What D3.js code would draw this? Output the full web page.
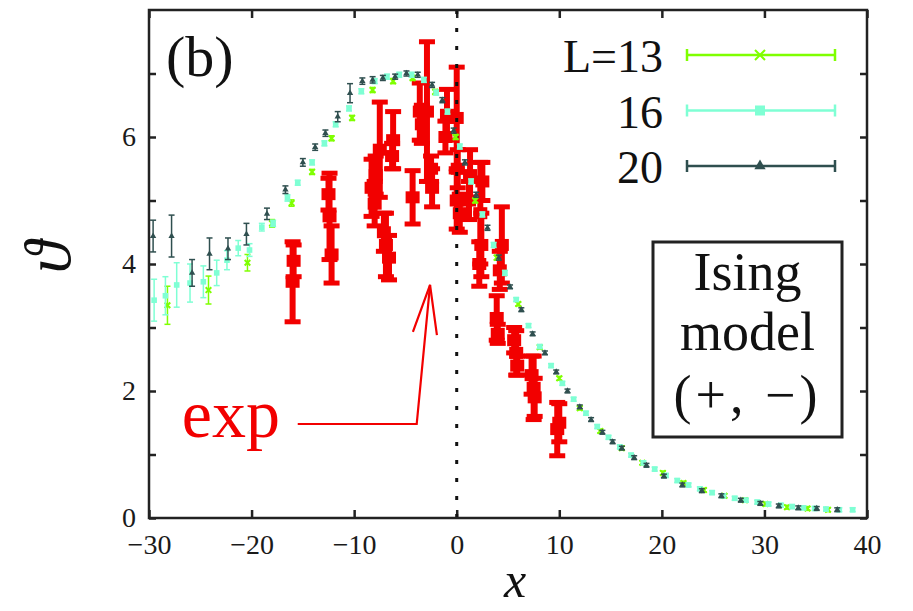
<!DOCTYPE html>
<html>
<head>
<meta charset="utf-8">
<script src="https://cdn.jsdelivr.net/npm/d3@7"></script>
<style>
  body { margin: 0; background: #fff; }
  text { font-family: "Liberation Serif", serif; }
</style>
</head>
<body>
<svg id="chart" width="913" height="611"></svg>
<script>
// Ising model, L=13
const l13X = [-28.2, -24.2, -20.4, -18.0, -16.1, -14.1, -12.2, -10.2, -8.2, -6.2, -4.3, -2.1, -0.1, 1.8, 3.9, 6.0, 8.1, 10.0, 12.0, 14.0, 16.1, 18.1, 20.1, 22.1, 24.1, 26.1, 28.1, 30.1, 32.2, 34.2, 36.2];
const l13Y = [3.35, 3.59, 4.02, 4.64, 4.96, 5.45, 5.98, 6.3, 6.74, 6.88, 6.93, 6.71, 6.0, 5.0, 4.1, 3.37, 2.69, 2.2, 1.73, 1.37, 1.1, 0.87, 0.71, 0.55, 0.44, 0.35, 0.28, 0.22, 0.17, 0.15, 0.13];
const l13Err = [0.3, 0.22, 0.13, 0.06, 0.05, 0.04, 0.04, 0.04, 0.04, 0.04, 0.04, 0.04, 0.04, 0.04, 0.04, 0.03, 0.03, 0.03, 0.03, 0.03, 0.03, 0.03, 0.03, 0.03, 0.03, 0.03, 0.03, 0.03, 0.03, 0.03, 0.03];

// L=16
const l16X = [-29.5, -28.4, -27.3, -26.0, -24.7, -23.4, -22.4, -21.3, -20.2, -19.0, -17.9, -16.5, -15.5, -14.1, -12.9, -11.8, -10.5, -9.3, -8.0, -6.8, -5.6, -4.4, -3.2, -2.0, -0.9, 0.3, 1.4, 2.5, 3.6, 4.7, 5.8, 7.0, 8.1, 9.2, 10.3, 11.4, 12.6, 13.7, 14.8, 15.9, 17.0, 18.2, 19.3, 20.4, 21.5, 22.6, 23.7, 24.9, 26.0, 27.1, 28.2, 29.3, 30.4, 31.6, 32.7, 33.8, 34.9, 36.0, 37.3, 38.6];
const l16Y = [3.43, 3.5, 3.67, 3.7, 3.72, 3.86, 4.06, 4.25, 4.22, 4.58, 4.64, 5.04, 5.28, 5.6, 5.9, 6.2, 6.45, 6.72, 6.88, 6.95, 6.98, 6.98, 6.9, 6.7, 6.4, 5.85, 5.3, 4.78, 4.3, 3.86, 3.44, 3.03, 2.7, 2.4, 2.12, 1.87, 1.65, 1.44, 1.27, 1.12, 0.99, 0.87, 0.77, 0.67, 0.59, 0.52, 0.46, 0.4, 0.35, 0.31, 0.28, 0.25, 0.22, 0.2, 0.18, 0.16, 0.15, 0.14, 0.13, 0.13];
const l16Err = [0.33, 0.3, 0.35, 0.3, 0.25, 0.2, 0.15, 0.12, 0.1, 0.06, 0.05, 0.05, 0.04, 0.04, 0.04, 0.04, 0.04, 0.04, 0.04, 0.04, 0.04, 0.04, 0.04, 0.04, 0.04, 0.04, 0.04, 0.04, 0.04, 0.04, 0.03, 0.03, 0.03, 0.03, 0.03, 0.03, 0.03, 0.03, 0.03, 0.03, 0.03, 0.03, 0.03, 0.03, 0.03, 0.03, 0.03, 0.03, 0.03, 0.03, 0.03, 0.03, 0.03, 0.03, 0.03, 0.03, 0.03, 0.03, 0.03, 0.03];

// L=20
const l20X = [-29.6, -27.8, -25.8, -24.1, -22.3, -20.5, -18.5, -16.7, -15.0, -13.8, -12.8, -11.6, -10.4, -9.2, -8.2, -7.2, -6.0, -4.9, -3.8, -2.4, -1.4, -0.3, 0.8, 1.9, 3.0, 4.1, 5.2, 6.3, 7.4, 8.6, 9.7, 10.8, 12.0, 13.1, 14.2, 15.2, 16.1, 17.3, 18.5, 20.2, 22.0, 23.9, 25.8, 27.7, 29.6, 31.4, 33.3, 35.1, 37.1];
const l20Y = [4.44, 4.44, 3.86, 4.16, 4.24, 4.47, 4.79, 5.17, 5.6, 5.84, 6.06, 6.32, 6.69, 6.88, 6.9, 6.93, 6.95, 7.0, 6.98, 6.82, 6.58, 6.1, 5.6, 5.09, 4.57, 4.1, 3.64, 3.28, 2.9, 2.6, 2.3, 2.0, 1.75, 1.55, 1.35, 1.2, 1.1, 0.95, 0.83, 0.66, 0.52, 0.43, 0.35, 0.28, 0.23, 0.19, 0.16, 0.15, 0.13];
const l20Err = [0.25, 0.33, 0.21, 0.25, 0.17, 0.17, 0.09, 0.06, 0.06, 0.05, 0.05, 0.08, 0.15, 0.05, 0.05, 0.04, 0.04, 0.04, 0.04, 0.04, 0.04, 0.04, 0.04, 0.04, 0.04, 0.04, 0.03, 0.03, 0.03, 0.03, 0.03, 0.03, 0.03, 0.03, 0.03, 0.03, 0.03, 0.03, 0.03, 0.03, 0.03, 0.03, 0.03, 0.03, 0.03, 0.03, 0.03, 0.03, 0.03];

// Experiment
const expX = [-16.0, -15.9, -12.4, -12.2, -12.5, -8.3, -8.0, -7.5, -7.9, -6.9, -6.6, -7.1, -6.2, -6.3, -4.3, -3.6, -3.4, -2.9, -2.4, -2.5, -0.95, -1.1, 0.0, 0.1, 0.0, 0.3, 1.3, 1.2, 2.3, 2.4, 2.2, 2.5, 4.4, 4.2, 3.9, 4.0, 5.8, 5.6, 5.9, 7.5, 7.3, 7.6, 9.8, 10.0];
const expY = [3.72, 4.05, 4.75, 4.15, 5.1, 5.2, 4.95, 5.8, 5.4, 4.3, 4.1, 4.5, 5.95, 5.7, 5.05, 6.4, 6.2, 6.4, 5.2, 5.5, 6.35, 6.0, 6.3, 5.5, 5.0, 4.8, 5.4, 5.0, 4.8, 4.3, 4.0, 5.3, 4.3, 3.9, 3.15, 2.9, 2.6, 2.8, 2.4, 2.05, 2.25, 1.9, 1.4, 1.5];
const expErr = [0.63, 0.25, 0.68, 0.45, 0.25, 0.45, 0.35, 0.75, 0.3, 0.5, 0.35, 0.3, 0.45, 0.2, 0.42, 0.45, 0.3, 1.1, 0.3, 0.2, 0.4, 0.25, 0.8, 0.3, 0.45, 0.3, 0.4, 0.3, 0.8, 0.5, 0.35, 0.3, 0.6, 0.3, 0.35, 0.15, 0.35, 0.2, 0.15, 0.5, 0.3, 0.3, 0.42, 0.3];

const xTicks = [-30, -20, -10, 0, 10, 20, 30, 40];
const yTicks = [0, 1, 2, 3, 4, 5, 6, 7];
const legendLabels = ["L=13", "16", "20"];
const boxLines = ["Ising", "model", "(+, \u2212)"];

const W = 913, H = 611;
const MARGIN = { top: 10, right: 46, bottom: 93, left: 149 };
const GREEN = "#7fff00", CYAN = "#7fffd4", DARK = "#2f4f4f", RED = "#f20000", AXIS = "#222";

const svg = d3.select("#chart");
const x = d3.scaleLinear().domain([-30, 40]).range([MARGIN.left, W - MARGIN.right]);
const y = d3.scaleLinear().domain([0, 8]).range([H - MARGIN.bottom, MARGIN.top]);

const zip = (xs, ys, es) => xs.map((v, i) => ({ x: v, y: ys[i], e: es[i] }));
const series = [
  { label: legendLabels[0], color: GREEN, marker: "cross", data: zip(l13X, l13Y, l13Err) },
  { label: legendLabels[1], color: CYAN, marker: "square", data: zip(l16X, l16Y, l16Err) },
  { label: legendLabels[2], color: DARK, marker: "triangle", data: zip(l20X, l20Y, l20Err) }
];
const expData = zip(expX, expY, expErr);

// Axes (ticks point inward, gnuplot style)
const fmt = d => (d < 0 ? "\u2212" + Math.abs(d) : "" + d);
svg.append("g").attr("transform", `translate(0,${y(0)})`)
  .call(d3.axisBottom(x).tickValues(xTicks).tickSize(-8).tickPadding(16).tickFormat(fmt));
svg.append("g").attr("transform", `translate(${x(-30)},0)`)
  .call(d3.axisLeft(y).tickValues(yTicks).tickSize(-7).tickPadding(13)
    .tickFormat(d => (d % 2 === 0 ? d : "")));
svg.append("g").attr("transform", `translate(0,${y(8)})`)
  .call(d3.axisTop(x).tickValues(xTicks).tickSize(-8).tickFormat(""));
svg.append("g").attr("transform", `translate(${x(40)},0)`)
  .call(d3.axisRight(y).tickValues(yTicks).tickSize(-7).tickFormat(""));
svg.selectAll(".domain").remove();
svg.selectAll(".tick line").attr("stroke", AXIS).attr("stroke-width", 2.5);
svg.selectAll(".tick text")
  .attr("font-family", "DejaVu Sans, sans-serif")
  .attr("font-size", 28)
  .attr("fill", "#1a1a1a");

// Experimental points
const exp = svg.append("g");
exp.selectAll("line").data(expData).join("line")
  .attr("x1", d => x(d.x)).attr("x2", d => x(d.x))
  .attr("y1", d => y(d.y - d.e)).attr("y2", d => y(d.y + d.e))
  .attr("stroke", RED).attr("stroke-width", 6);
exp.append("g").selectAll("rect").data(expData).join("rect")
  .attr("x", d => x(d.x) - 8).attr("y", d => y(d.y + d.e) - 2.5)
  .attr("width", 16).attr("height", 5).attr("fill", RED);
exp.append("g").selectAll("rect").data(expData).join("rect")
  .attr("x", d => x(d.x) - 8).attr("y", d => y(d.y - d.e) - 2.5)
  .attr("width", 16).attr("height", 5).attr("fill", RED);
exp.append("g").selectAll("rect").data(expData).join("rect")
  .attr("x", d => x(d.x) - 7).attr("y", d => y(d.y) - 6)
  .attr("width", 14).attr("height", 12).attr("fill", RED);

// Dotted line at x = 0
svg.append("line")
  .attr("x1", x(0)).attr("x2", x(0)).attr("y1", y(0)).attr("y2", y(8))
  .attr("stroke", "#111").attr("stroke-width", 3).attr("stroke-dasharray", "4 14");

// Simulation series
function marker(g, type, color, size) {
  if (type === "cross") {
    g.append("path")
      .attr("d", `M${-size},${-size}L${size},${size}M${-size},${size}L${size},${-size}`)
      .attr("stroke", color).attr("stroke-width", 2);
  } else if (type === "square") {
    g.append("rect").attr("x", -size).attr("y", -size)
      .attr("width", 2 * size).attr("height", 2 * size).attr("fill", color);
  } else {
    g.append("path").attr("d", d3.symbol(d3.symbolTriangle, size * size * 2.2)())
      .attr("fill", color);
  }
}

series.forEach(s => {
  const g = svg.append("g");
  const pts = g.selectAll("g").data(s.data).join("g")
    .attr("transform", d => `translate(${x(d.x)},0)`);
  pts.append("line")
    .attr("y1", d => y(d.y - d.e)).attr("y2", d => y(d.y + d.e))
    .attr("stroke", s.color).attr("stroke-width", 1.5);
  pts.append("line").attr("x1", -3).attr("x2", 3)
    .attr("y1", d => y(d.y + d.e)).attr("y2", d => y(d.y + d.e))
    .attr("stroke", s.color).attr("stroke-width", 1.5);
  pts.append("line").attr("x1", -3).attr("x2", 3)
    .attr("y1", d => y(d.y - d.e)).attr("y2", d => y(d.y - d.e))
    .attr("stroke", s.color).attr("stroke-width", 1.5);
  pts.each(function (d) {
    const m = d3.select(this).append("g").attr("transform", `translate(0,${y(d.y)})`);
    marker(m, s.marker, s.color, 2.8);
  });
});

// Frame
svg.append("rect")
  .attr("x", x(-30)).attr("y", y(8))
  .attr("width", x(40) - x(-30)).attr("height", y(0) - y(8))
  .attr("fill", "none").attr("stroke", AXIS).attr("stroke-width", 2.5);

// Legend
const legend = svg.append("g");
series.forEach((s, i) => {
  const ly = 55 + i * 55.5;
  legend.append("text").text(s.label)
    .attr("x", 663).attr("y", ly + 17).attr("text-anchor", "end")
    .attr("font-size", 46).attr("fill", "#111");
  legend.append("line").attr("x1", 687).attr("x2", 835).attr("y1", ly).attr("y2", ly)
    .attr("stroke", s.color).attr("stroke-width", 2.5);
  [687, 835].forEach(cx => legend.append("line")
    .attr("x1", cx).attr("x2", cx).attr("y1", ly - 6).attr("y2", ly + 6)
    .attr("stroke", s.color).attr("stroke-width", 2.5));
  const m = legend.append("g").attr("transform", `translate(760,${ly})`);
  marker(m, s.marker, s.color, 5);
});

// Ising model box
svg.append("rect").attr("x", 653).attr("y", 242).attr("width", 189).attr("height", 195)
  .attr("fill", "#fff").attr("stroke", AXIS).attr("stroke-width", 3);
boxLines.forEach((t, i) => {
  svg.append("text").text(t)
    .attr("x", 747.5).attr("y", [290, 350, 413][i]).attr("text-anchor", "middle")
    .attr("font-size", 54).attr("fill", "#111")
    .attr("letter-spacing", i === 2 ? 4 : 0);
});

// Panel label
svg.append("text").text("(b)").attr("x", 166).attr("y", 76)
  .attr("font-size", 58).attr("fill", "#111");

// Annotation "exp" with arrow
svg.append("text").text("exp").attr("x", x(-26.8)).attr("y", y(1.27))
  .attr("font-size", 68).attr("fill", RED);
const arrowPts = [[-15.5, 1.48], [-3.9, 1.48], [-2.6, 3.67]];
svg.append("path")
  .attr("d", d3.line().x(d => x(d[0])).y(d => y(d[1]))(arrowPts))
  .attr("fill", "none").attr("stroke", RED).attr("stroke-width", 2.2);
const headPts = [[-4.27, 2.93], [-2.6, 3.67], [-1.93, 2.88]];
svg.append("path")
  .attr("d", d3.line().x(d => x(d[0])).y(d => y(d[1]))(headPts))
  .attr("fill", "none").attr("stroke", RED).attr("stroke-width", 2.2);

// Axis titles
svg.append("text").text("x").attr("x", (x(-30) + x(40)) / 2 + 7).attr("y", 597)
  .attr("text-anchor", "middle").attr("font-style", "italic").attr("font-size", 50)
  .attr("fill", "#111");
svg.append("text").text("\u03D1")
  .attr("transform", `translate(70,257) rotate(-90)`)
  .attr("text-anchor", "middle").attr("font-style", "italic").attr("font-size", 66)
  .attr("fill", "#111");
</script>
</body>
</html>
